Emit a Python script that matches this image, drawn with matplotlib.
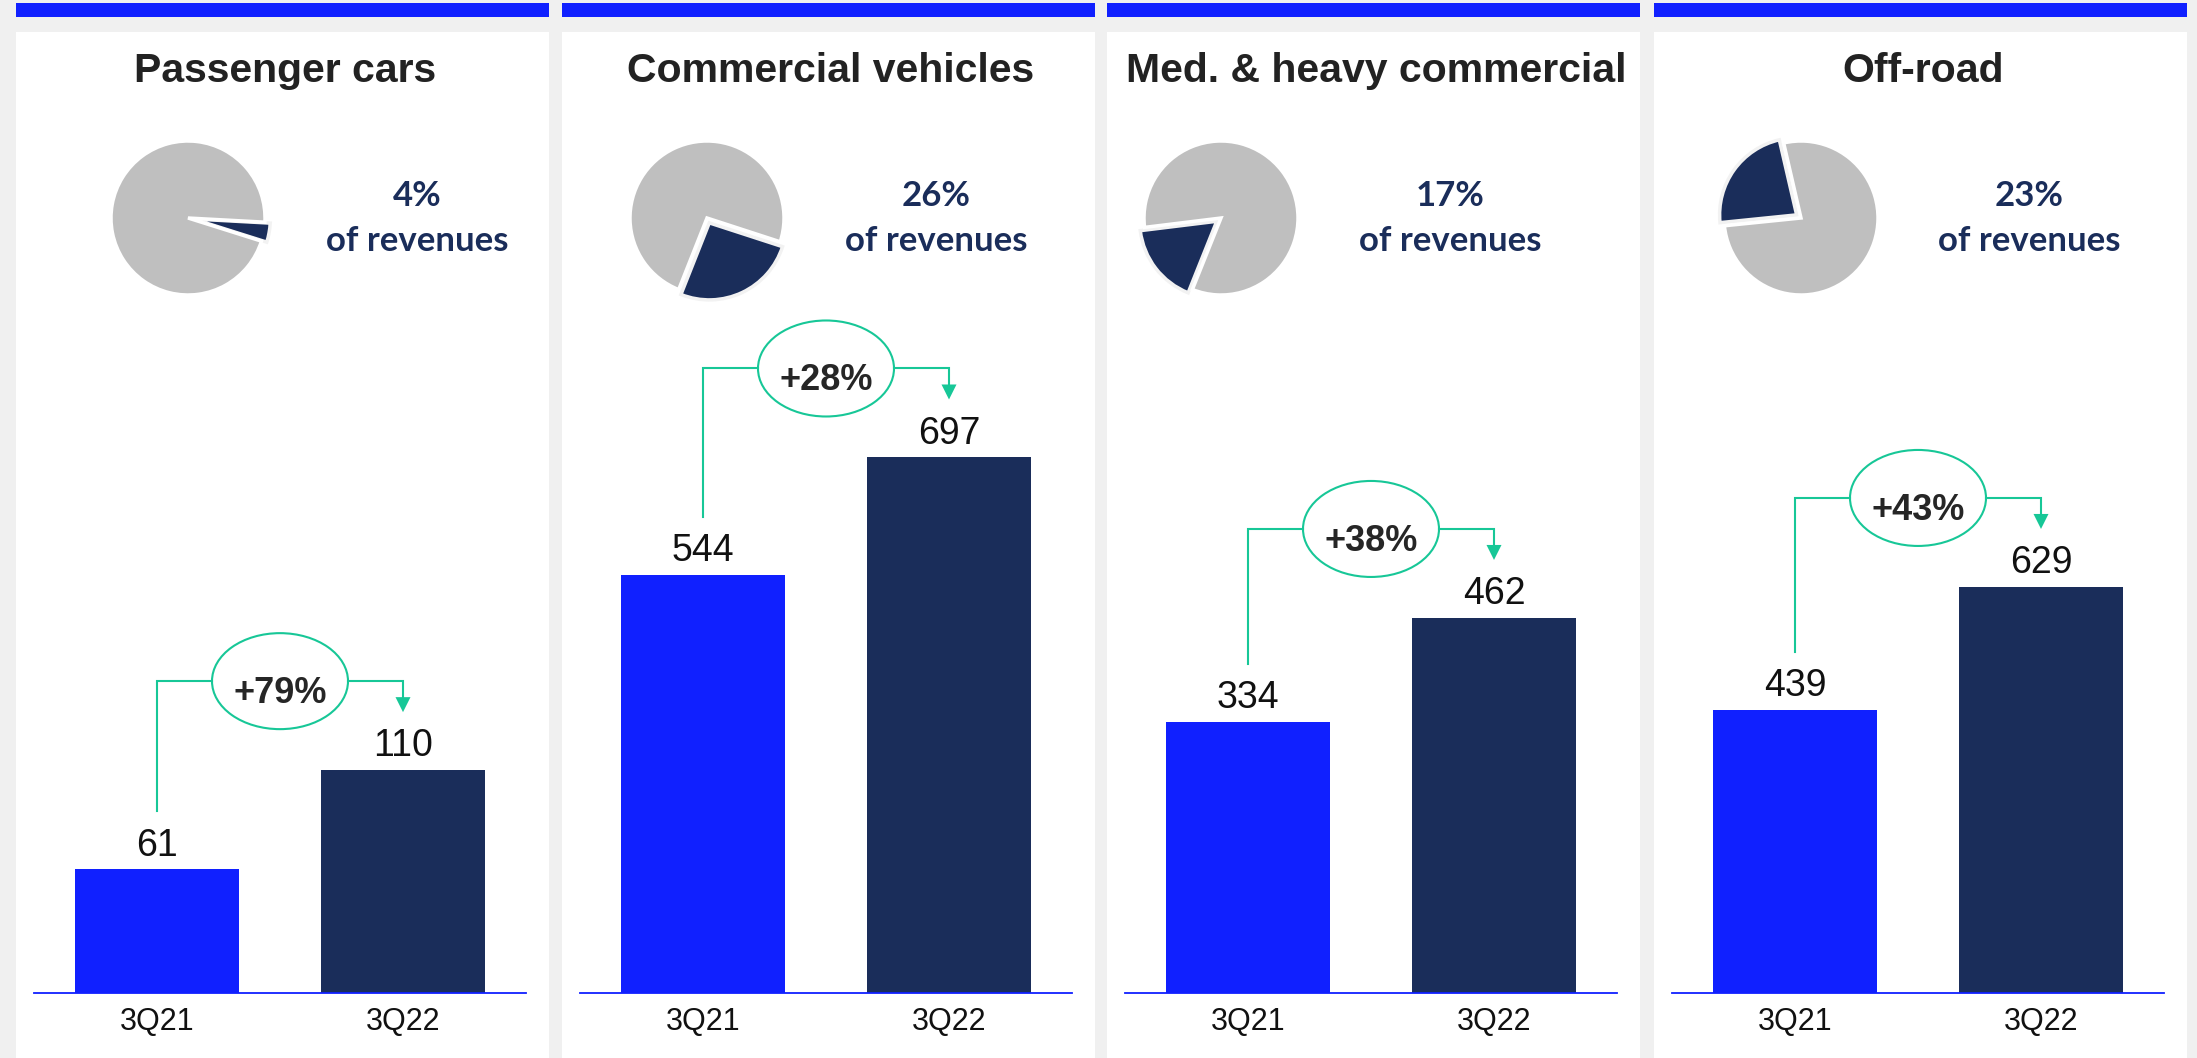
import matplotlib
matplotlib.use("Agg")
import matplotlib.pyplot as plt
from matplotlib.patches import Rectangle, Ellipse, Polygon

# segment data
segments = ["Passenger cars", "Commercial vehicles", "Med. & heavy commercial", "Off-road"]
revenue_share = [4, 26, 17, 23]          # % of revenues
periods = ["3Q21", "3Q22"]
sales_3q21 = [61, 544, 334, 439]
sales_3q22 = [110, 697, 462, 629]
growth_labels = ["+79%", "+28%", "+38%", "+43%"]

# layout (pixels, measured from the top-left corner)
W, H = 2197, 1058
panel_x = [16, 562, 1107, 1654]
PANEL_W = 533
pie_cx = [172, 145, 114, 147]
share_cx = [401, 374, 343, 375]
pie_start = [-17.5, -111.6, 187, 103]
y_top = [347, 915, 866, 1089]            # per-panel value axis limit

BLUE = "#1020ff"
NAVY = "#1a2d5a"
GREY = "#bfbfbf"
TEAL = "#17c797"

plt.rcParams["font.family"] = ["Liberation Sans", "DejaVu Sans"]


def fx(px):
    return px / W


def fy(py):
    return 1 - py / H


fig = plt.figure(figsize=(W / 100, H / 100), dpi=100, facecolor="#f0f0f0")

AX_L, AX_W = 18, 492
AX_BOT, AX_TOP = 993, 290
AX_H = AX_BOT - AX_TOP
PIE_R = 77

for i, name in enumerate(segments):
    x0 = panel_x[i]

    # panel card + blue strip on top (kept behind the axes)
    fig.patches.append(Rectangle((fx(x0), 0), PANEL_W / W, fy(32), transform=fig.transFigure,
                                 facecolor="white", edgecolor="none", zorder=-2))
    fig.patches.append(Rectangle((fx(x0), fy(17)), PANEL_W / W, 14 / H, transform=fig.transFigure,
                                 facecolor=BLUE, edgecolor="none", zorder=-2))

    fig.text(fx(x0 + 269), fy(82), name, ha="center", va="baseline",
             fontsize=29.5, fontweight="bold", color="#222222")

    # share pie
    s = 2 * PIE_R * 1.25
    cx = x0 + pie_cx[i]
    pax = fig.add_axes([fx(cx - s / 2), fy(218 + s / 2), s / W, s / H])
    share = revenue_share[i]
    wedges, _ = pax.pie([share, 100 - share], colors=[NAVY, GREY], startangle=pie_start[i],
                        counterclock=True, explode=[0.07, 0],
                        wedgeprops=dict(edgecolor="#f2f2f2", linewidth=2.5))
    wedges[1].set_edgecolor("white")
    pax.set_xlim(-1.25, 1.25)
    pax.set_ylim(-1.25, 1.25)

    tx = fx(x0 + share_cx[i])
    fig.text(tx, fy(206), f"{share}%", ha="center", va="baseline",
             fontsize=25, fontweight="bold", color=NAVY, family="Lato")
    fig.text(tx, fy(251), "of revenues", ha="center", va="baseline",
             fontsize=25, fontweight="bold", color=NAVY, family="Lato")

    # bars
    bax = fig.add_axes([fx(x0 + AX_L), fy(AX_BOT), AX_W / W, AX_H / H])
    bax.patch.set_visible(False)
    v1, v2 = sales_3q21[i], sales_3q22[i]
    bax.bar([0, 1], [v1, v2], width=0.667, color=[BLUE, NAVY])
    bax.set_xlim(-0.5, 1.5)
    bax.set_ylim(0, y_top[i])
    for side in ["top", "left", "right"]:
        bax.spines[side].set_visible(False)
    bax.spines["bottom"].set_color(BLUE)
    bax.spines["bottom"].set_linewidth(1.3)
    bax.set_yticks([])
    bax.set_xticks([0, 1], periods)
    bax.tick_params(axis="x", length=0, pad=10, labelsize=22, labelcolor="#111111")

    for xi, v in zip([0, 1], [v1, v2]):
        bax.annotate(str(v), (xi, v), xytext=(0, 10), textcoords="offset points",
                     ha="center", va="baseline", fontsize=27, color="#111111")

    # growth bracket
    ppu = AX_H / y_top[i]            # pixels per value unit
    xpu = AX_W / 2.0                 # pixels per x unit
    gap = 58 / ppu
    level = max(v1, v2) + 89 / ppu
    ew, eh = 136 / xpu, 96 / ppu
    head_h, head_w = 15 / ppu, 7.5 / xpu
    tip = v2 + gap

    bax.plot([0, 0, 0.5 - ew / 2], [v1 + gap, level, level], color=TEAL, lw=1.5,
             clip_on=False, solid_joinstyle="miter")
    bax.plot([0.5 + ew / 2, 1, 1], [level, level, tip + head_h], color=TEAL, lw=1.5,
             clip_on=False, solid_joinstyle="miter")
    bax.add_patch(Polygon([(1 - head_w, tip + head_h), (1 + head_w, tip + head_h), (1, tip)],
                          closed=True, facecolor=TEAL, edgecolor="none", clip_on=False))
    bax.add_patch(Ellipse((0.5, level), ew, eh, facecolor="white", edgecolor=TEAL,
                          lw=1.5, clip_on=False))
    bax.text(0.5, level - 22 / ppu, growth_labels[i], ha="center", va="baseline",
             fontsize=26, fontweight="bold", color="#262626")

fig.savefig("out.png", dpi=100, facecolor=fig.get_facecolor())
